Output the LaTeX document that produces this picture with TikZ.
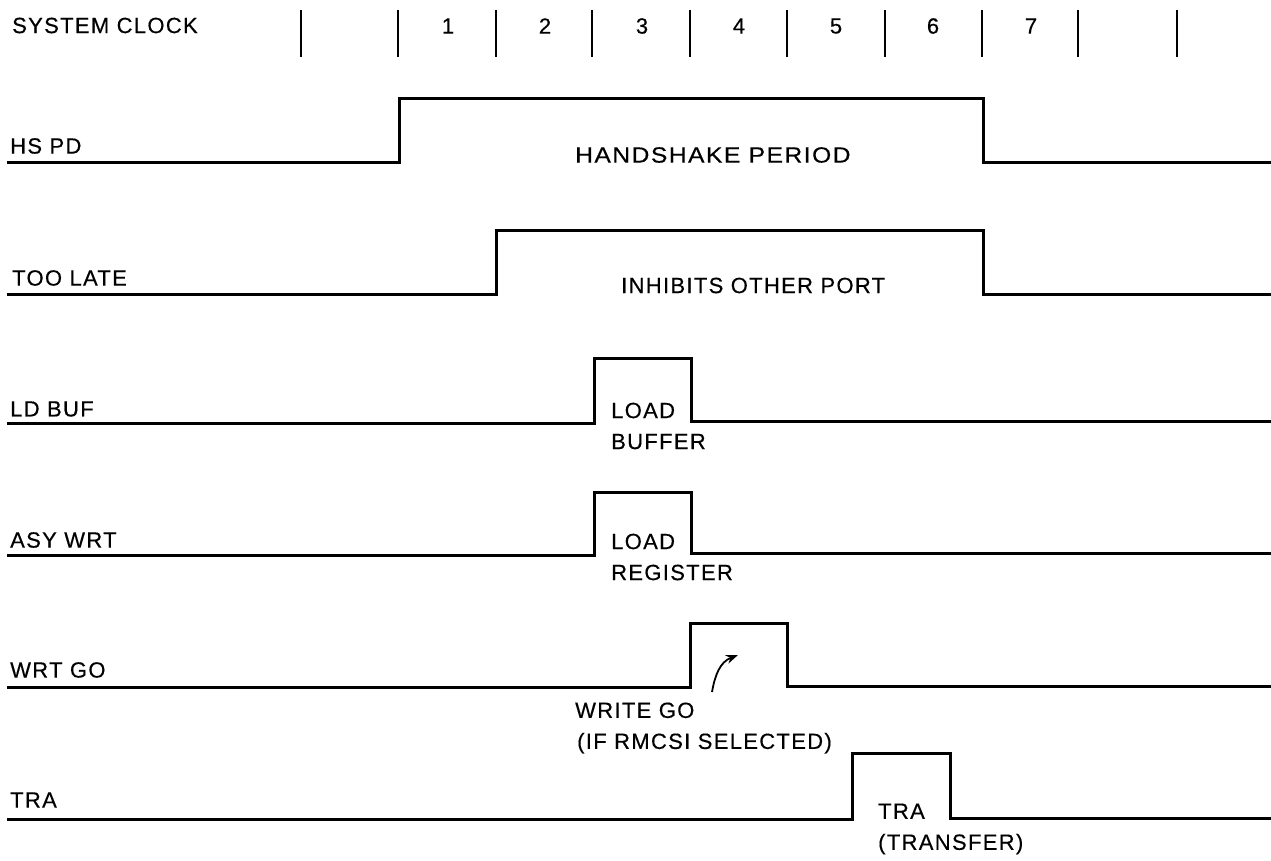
\documentclass[tikz,border=0pt]{standalone}
\usepackage{fontspec}
\setmainfont{Liberation Sans}[LetterSpace=6,FakeBold=0.4]
\usetikzlibrary{arrows.meta}
\begin{document}
\begin{tikzpicture}[x=1pt,y=-1pt,
  lbl/.style={anchor=west,inner sep=0pt,font=\fontsize{22}{26}\selectfont},
  note/.style={anchor=west,inner sep=0pt,align=left,font=\fontsize{22}{31}\selectfont},
  num/.style={inner sep=0pt,font=\fontsize{22}{26}\selectfont},
  sig/.style={line width=3pt,line join=miter},
  tick/.style={line width=2.4pt}]
\useasboundingbox (0,0) rectangle (1271,861);
% clock
\node[lbl] (clk) at (12,25.5) {SYSTEM CLOCK};
\foreach \x [count=\i] in {301,398,496,592,690,787,885,982,1078,1177}
  \draw[tick] (\x,10) -- (\x,57);
\foreach \n/\x in {1/448,2/545,3/642,4/739,5/836,6/933,7/1031}
  \node[num] (n\n) at (\x,26) {\n};
% HS PD
\node[lbl] (hs) at (10,146) {HS PD};
\draw[sig] (7,163) -- (399,163) -- (399,99) -- (983,99) -- (983,163) -- (1271,163);
\node[lbl] (hst) at (575,155) {\scalebox{1.12}[1]{HANDSHAKE PERIOD}};
% TOO LATE
\node[lbl] (tl) at (12,278) {TOO LATE};
\draw[sig] (7,294) -- (496,294) -- (496,230) -- (983,230) -- (983,294) -- (1271,294);
\node[lbl] (tlt) at (621,285.5) {INHIBITS OTHER PORT};
% LD BUF
\node[lbl] (ld) at (10,409) {LD BUF};
\draw[sig] (7,423) -- (594,423) -- (594,358) -- (691,358) -- (691,421) -- (1271,421);
\node[note] (ldt) at (611,426) {LOAD\\BUFFER};
% ASY WRT
\node[lbl] (asy) at (10,540) {ASY WRT};
\draw[sig] (7,555) -- (594,555) -- (594,492) -- (691,492) -- (691,553) -- (1271,553);
\node[note] (asyt) at (611,557) {LOAD\\REGISTER};
% WRT GO
\node[lbl] (wg) at (10,670) {WRT GO};
\draw[sig] (7,687) -- (690,687) -- (690,623) -- (787,623) -- (787,686) -- (1271,686);
\node[note] (wgt) at (575,728) {WRITE GO\\\hspace{2pt}(IF RMCSI SELECTED)};
\coordinate (wa) at (712,692);
\coordinate (wb) at (738,655);
\draw[line width=1.8pt,-{Stealth[length=12pt,width=9pt]}] (wa) .. controls (715,675) and (720,662) .. (wb);
% TRA
\node[lbl] (tra) at (10,800) {TRA};
\draw[sig] (7,819) -- (852,819) -- (852,753) -- (950,753) -- (950,818) -- (1271,818);
\node[note] (trat) at (878,829) {TRA\\(TRANSFER)};
\end{tikzpicture}
\end{document}
